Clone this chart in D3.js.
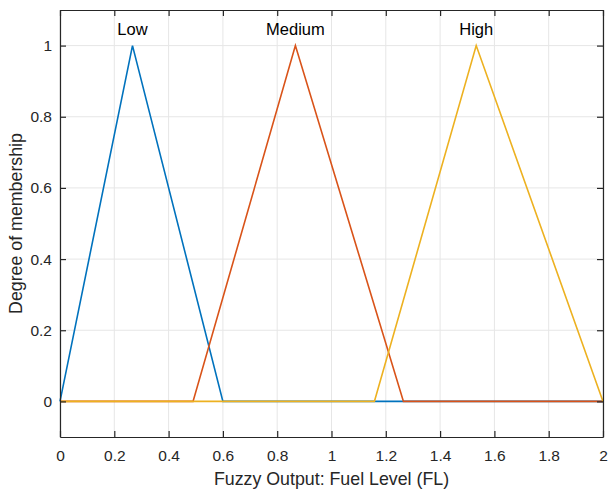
<!DOCTYPE html>
<html>
<head>
<meta charset="utf-8">
<script src="https://cdn.jsdelivr.net/npm/d3@7"></script>
<style>
  html, body { margin: 0; padding: 0; background: #fff; }
  svg { display: block; font-family: "Liberation Sans", Arial, Helvetica, sans-serif; }
</style>
</head>
<body>
<svg id="chart" width="608" height="492"></svg>
<script>
// Triangular membership functions for the fuzzy output variable
const mfNames = ["Low", "Medium", "High"];
const mfParams = [
  [0.0, 0.267, 0.6],
  [0.49, 0.867, 1.265],
  [1.158, 1.533, 2.0]
];
const mfColors = ["#0072BD", "#D95319", "#EDB120"];
const xTicks = [0, 0.2, 0.4, 0.6, 0.8, 1, 1.2, 1.4, 1.6, 1.8, 2];
const yTicks = [0, 0.2, 0.4, 0.6, 0.8, 1];
const xDomain = [0, 2];
const yDomain = [-0.1, 1.1];

const svg = d3.select("#chart");
const margin = { left: 60, top: 10, right: 5, bottom: 55 };
const W = 608, H = 492;
const iw = W - margin.left - margin.right;
const ih = H - margin.top - margin.bottom;

const x = d3.scaleLinear().domain(xDomain).range([0, iw]);
const y = d3.scaleLinear().domain(yDomain).range([ih, 0]);

const g = svg.append("g").attr("transform", `translate(${margin.left},${margin.top})`);

// grid
g.append("g").selectAll("line").data(xTicks).join("line")
  .attr("x1", d => x(d)).attr("x2", d => x(d))
  .attr("y1", 0).attr("y2", ih)
  .attr("stroke", "#e6e6e6").attr("stroke-width", 1);
g.append("g").selectAll("line").data(yTicks).join("line")
  .attr("x1", 0).attr("x2", iw)
  .attr("y1", d => y(d)).attr("y2", d => y(d))
  .attr("stroke", "#e6e6e6").attr("stroke-width", 1);

// membership curves, each spanning the full universe of discourse
const line = d3.line().x(d => x(d[0])).y(d => y(d[1]));
mfParams.forEach((p, i) => {
  const pts = [[xDomain[0], 0], [p[0], 0], [p[1], 1], [p[2], 0], [xDomain[1], 0]];
  g.append("path").datum(pts)
    .attr("d", line)
    .attr("fill", "none")
    .attr("stroke", mfColors[i])
    .attr("stroke-width", 1.6)
    .attr("stroke-linejoin", "miter");
});

// labels above each peak
g.append("g").selectAll("text").data(mfNames).join("text")
  .attr("x", (d, i) => x(mfParams[i][1]))
  .attr("y", y(1) - 11)
  .attr("text-anchor", "middle")
  .attr("font-size", 16.5)
  .attr("fill", "#000")
  .text(d => d);

// axes (box with inward ticks)
const axisColor = "#262626";
const tickFmt = d3.format("~g");
const xb = g.append("g").attr("transform", `translate(0,${ih})`)
  .call(d3.axisBottom(x).tickValues(xTicks).tickFormat(tickFmt).tickSizeInner(-6).tickSizeOuter(0).tickPadding(13));
const xt = g.append("g")
  .call(d3.axisTop(x).tickValues(xTicks).tickFormat("").tickSizeInner(-6).tickSizeOuter(0));
const yl = g.append("g")
  .call(d3.axisLeft(y).tickValues(yTicks).tickFormat(tickFmt).tickSizeInner(-6).tickSizeOuter(0).tickPadding(8));
const yr = g.append("g").attr("transform", `translate(${iw},0)`)
  .call(d3.axisRight(y).tickValues(yTicks).tickFormat("").tickSizeInner(-6).tickSizeOuter(0));

[xb, xt, yl, yr].forEach(a => {
  a.select(".domain").attr("stroke", axisColor).attr("stroke-width", 1.2);
  a.selectAll(".tick line").attr("stroke", axisColor).attr("stroke-width", 1.2);
  a.selectAll(".tick text").attr("fill", axisColor).attr("font-size", 15.5)
    .attr("font-family", "Liberation Sans, Arial, sans-serif");
});

// axis titles
svg.append("text")
  .attr("x", margin.left + iw / 2).attr("y", 485)
  .attr("text-anchor", "middle").attr("font-size", 17.8).attr("fill", axisColor)
  .text("Fuzzy Output: Fuel Level (FL)");
svg.append("text")
  .attr("transform", `translate(22,${margin.top + ih / 2}) rotate(-90)`)
  .attr("text-anchor", "middle").attr("font-size", 17.8).attr("fill", axisColor)
  .text("Degree of membership");
</script>
</body>
</html>
